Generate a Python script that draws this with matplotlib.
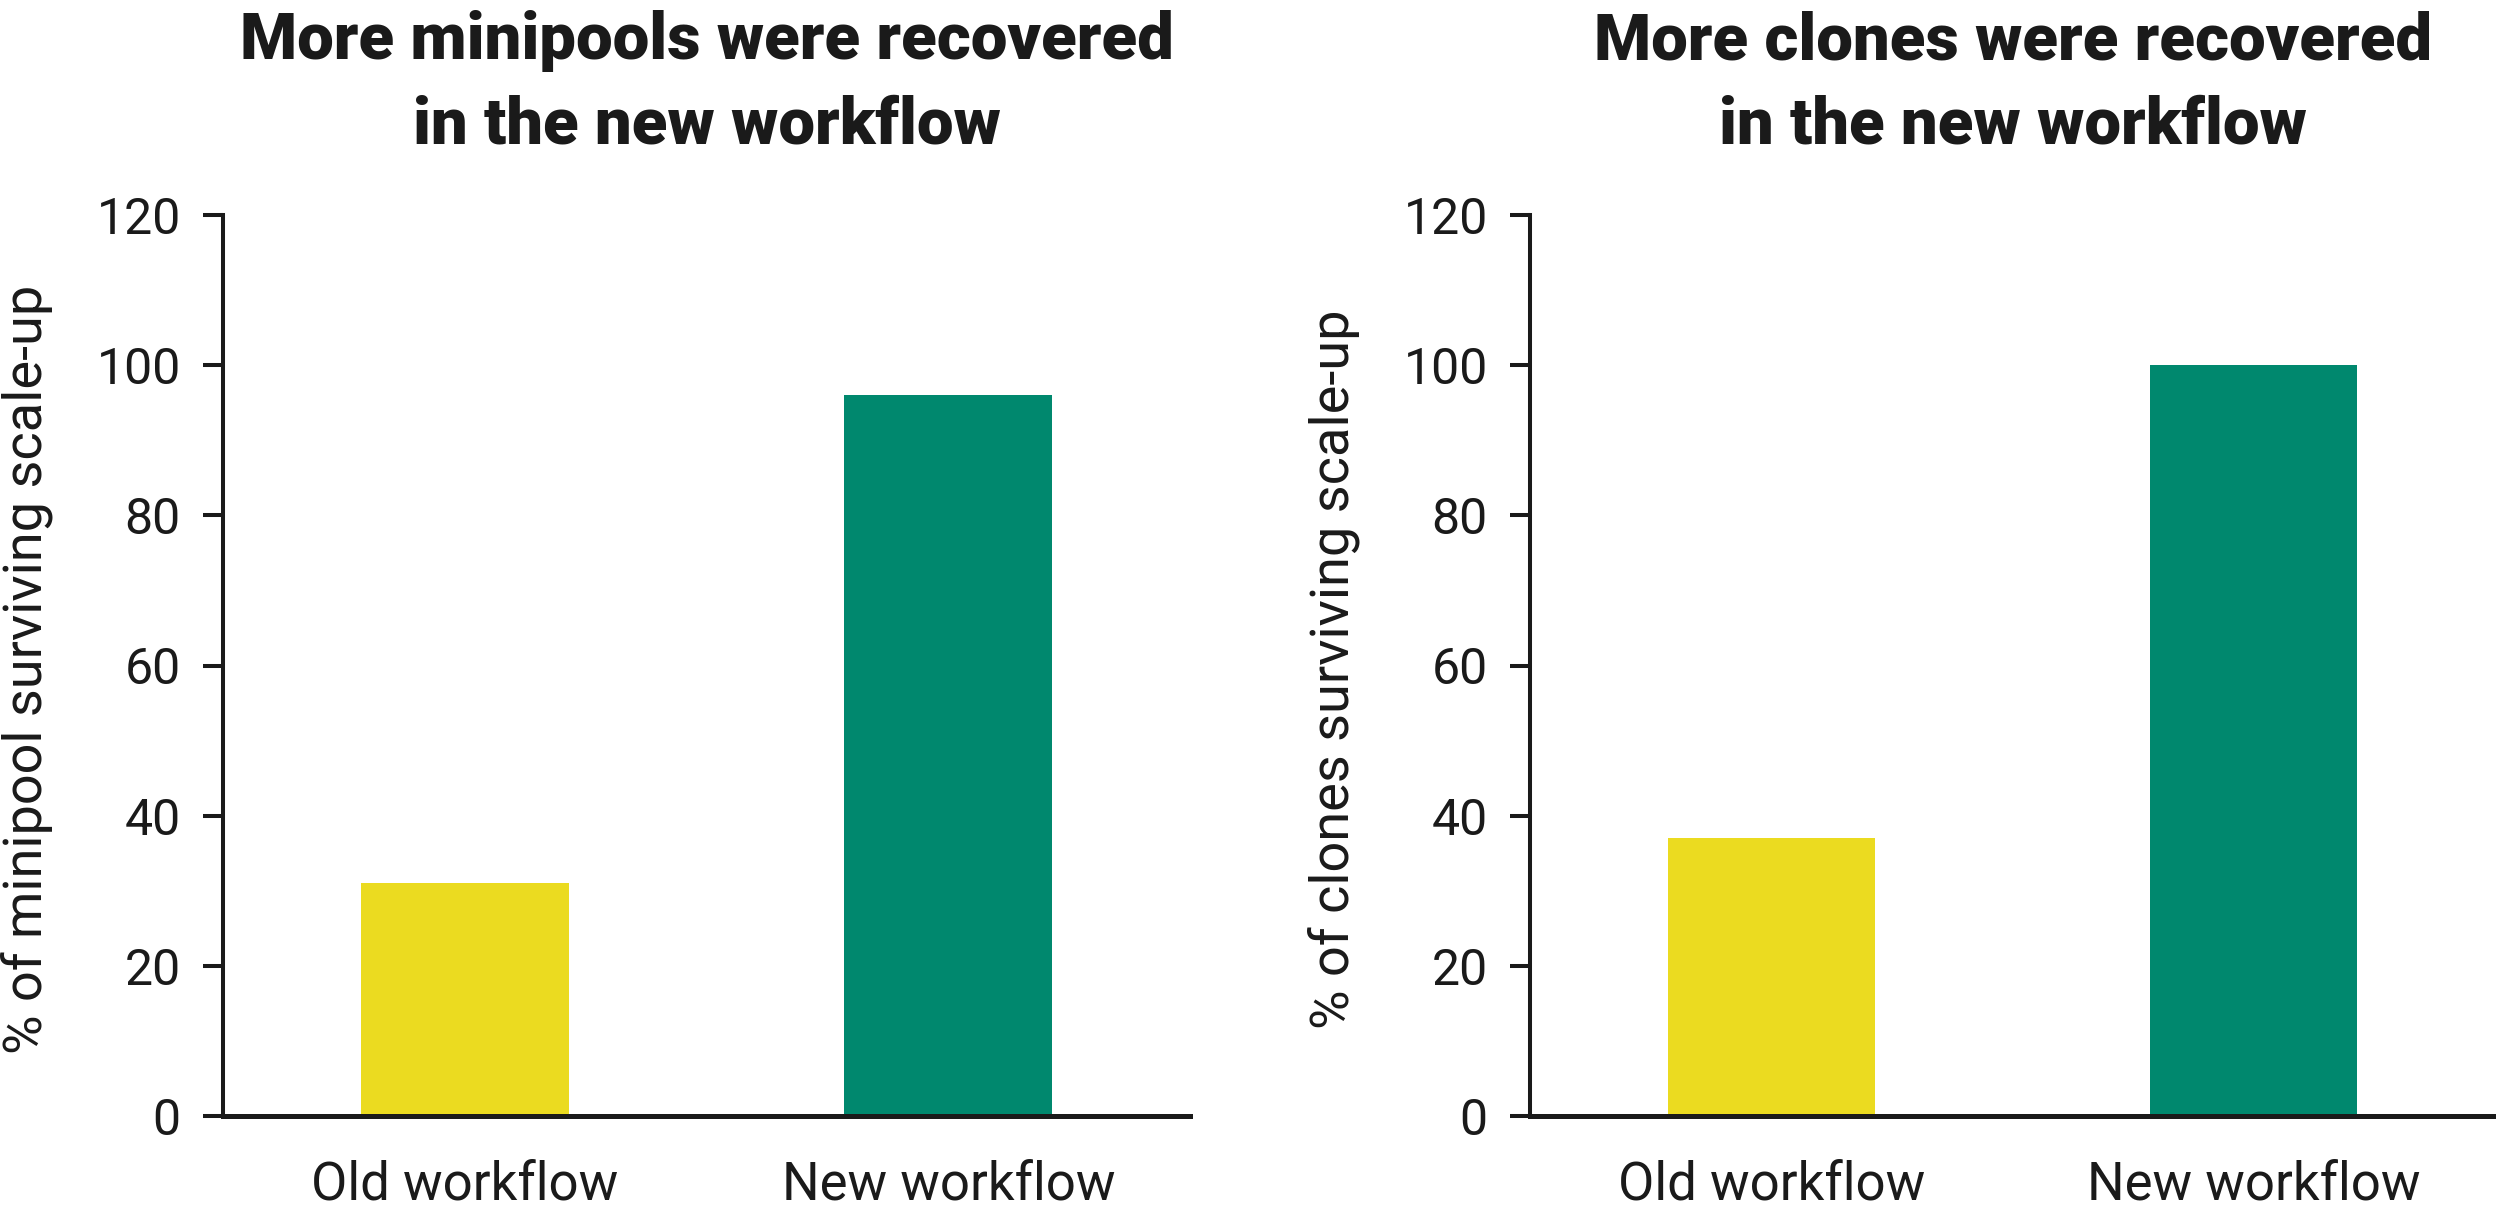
import matplotlib
matplotlib.use("Agg")
import matplotlib.pyplot as plt

categories = ["Old workflow", "New workflow"]
minipool_values = [31, 96]
clone_values = [37, 100]
titles = ["More minipools were recovered\nin the new workflow",
          "More clones were recovered\nin the new workflow"]
ylabels = ["% of minipool surviving scale-up", "% of clones surviving scale-up"]
yticks = [0, 20, 40, 60, 80, 100, 120]
colors = ["#EBDB20", "#00886E"]

W, H = 2496, 1214
fig = plt.figure(figsize=(W / 100, H / 100), dpi=100)
dark = "#1a1a1a"

def fx(px):
    return px / W

def fy(py):
    return 1 - py / H

axes_px = [(223, 1190), (1530, 2495)]
top_px, bot_px = 215, 1116
ylabel_x = [27, 1334]

for i, (vals, title, ylab) in enumerate(zip([minipool_values, clone_values], titles, ylabels)):
    x0, x1 = axes_px[i]
    ax = fig.add_axes([fx(x0), fy(bot_px), fx(x1 - x0), (bot_px - top_px) / H])
    ax.bar(range(len(categories)), vals, width=0.43, color=colors)
    ax.set_xlim(-0.5, 1.5)
    ax.set_ylim(0, 120)
    ax.set_yticks(yticks)
    ax.set_xticks(range(len(categories)))
    ax.set_xticklabels(categories)
    for s in ["top", "right"]:
        ax.spines[s].set_visible(False)
    ax.spines["left"].set_linewidth(2.9)
    ax.spines["bottom"].set_linewidth(3.6)
    ax.spines["left"].set_color(dark)
    ax.spines["bottom"].set_color(dark)
    ax.tick_params(axis="y", length=14.4, width=2.9, color=dark, pad=16,
                   labelsize=36, labelcolor=dark)
    ax.tick_params(axis="x", length=0, pad=31, labelsize=38, labelcolor=dark)
    for lbl in ax.get_xticklabels() + ax.get_yticklabels():
        lbl.set_fontfamily("Roboto")
    fig.text(fx(ylabel_x[i]), fy(669), ylab, rotation=90,
             ha="center", va="center", fontsize=39, color=dark, family="Roboto")
    fig.text(fx((x0 + x1) / 2), fy(10), title, ha="center", va="top",
             fontsize=47, fontweight="heavy", color=dark, family="Roboto",
             linespacing=1.45)

fig.savefig("out.png", dpi=100, facecolor="white")
